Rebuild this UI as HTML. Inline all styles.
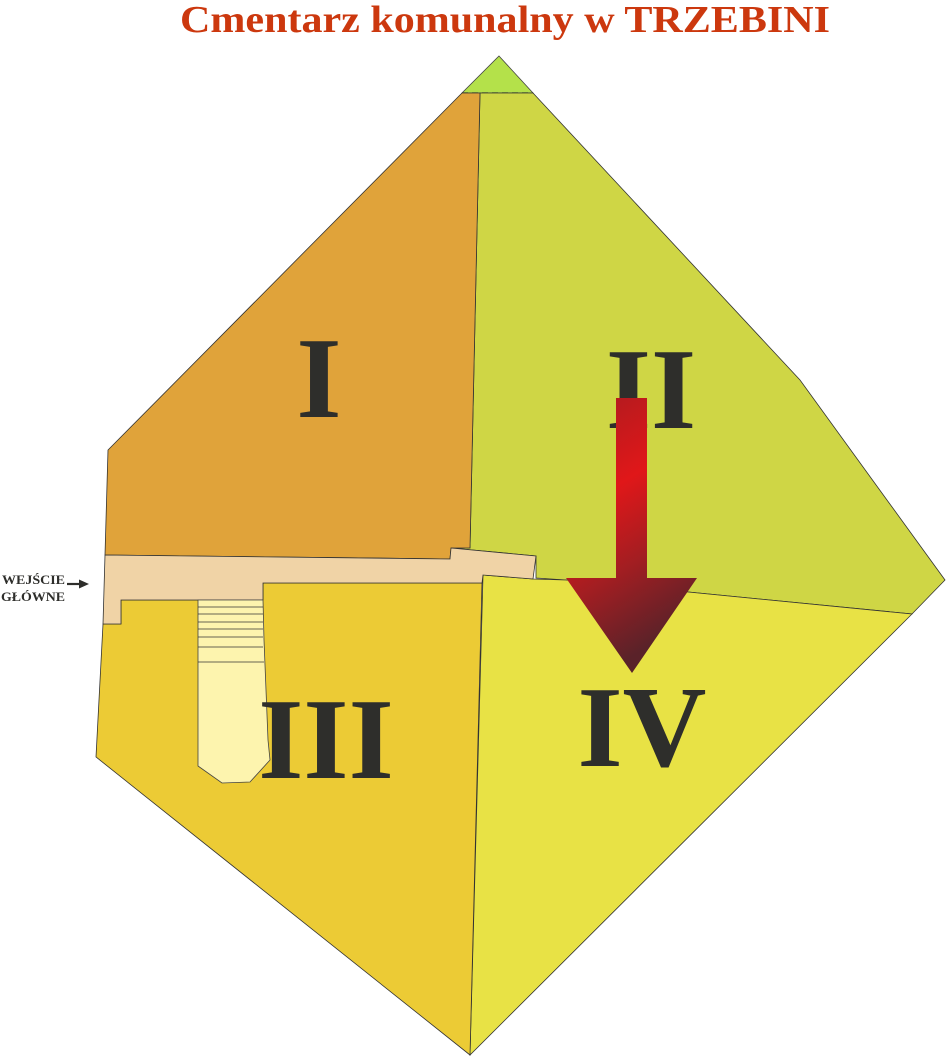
<!DOCTYPE html>
<html><head><meta charset="utf-8"><style>html,body{margin:0;padding:0;background:#fff;}svg{display:block;}</style></head>
<body>
<svg width="947" height="1057" viewBox="0 0 947 1057" xmlns="http://www.w3.org/2000/svg">
<defs>
<linearGradient id="ag" x1="0" y1="0" x2="0.3" y2="1">
<stop offset="0" stop-color="#a81c20"/>
<stop offset="0.4" stop-color="#e01719"/>
<stop offset="0.7" stop-color="#a01e22"/>
<stop offset="1" stop-color="#5a2229"/>
</linearGradient>
</defs>
<text x="505" y="32" font-family="Liberation Serif, serif" font-weight="bold" font-size="38" fill="#cc380e" text-anchor="middle" textLength="650" lengthAdjust="spacingAndGlyphs">Cmentarz komunalny w TRZEBINI</text>
<polygon points="499,56 533,93 462,93" fill="#b4e14a" stroke="#444" stroke-width="0.8"/>
<line x1="462" y1="93" x2="533" y2="93" stroke="#333" stroke-width="1.2" stroke-dasharray="6,4"/>
<polygon points="480,93 533,93 800,380 945,580 912,614 566,580 536,578 536,556 451,548 470,548" fill="#cfd645" stroke="#333" stroke-width="0.8"/>
<polygon points="462,93 480,93 470,548 451,548 450,559 105,555 108,450" fill="#e0a33a" stroke="#333" stroke-width="0.8"/>
<polygon points="483,575 533,579 566,580 912,614 470,1055" fill="#e8e245" stroke="#333" stroke-width="0.8"/>
<polygon points="121,600 263,600 263,583 482,583 470,1055 96,757 103,624 121,624" fill="#eccb35" stroke="#333" stroke-width="0.8"/>
<polygon points="105,555 450,559 451,548 536,556 533,579 483,575 482,583 263,583 263,600 121,600 121,624 103,624" fill="#f0d3a6" stroke="#333" stroke-width="0.8"/>
<polygon points="198,600 263,600 264,640 268,740 270,760 250,782 222,783 198,766" fill="#fdf4ae" stroke="#444" stroke-width="0.8"/>
<g stroke="#333" stroke-width="0.8">
<line x1="198" y1="607" x2="263" y2="607"/>
<line x1="198" y1="614" x2="263" y2="614"/>
<line x1="198" y1="622" x2="263" y2="622"/>
<line x1="198" y1="629" x2="263" y2="629"/>
<line x1="198" y1="637" x2="263" y2="637"/>
<line x1="198" y1="647" x2="263" y2="647"/>
<line x1="198" y1="662" x2="264" y2="662"/>
</g>
<g font-family="Liberation Serif, serif" font-weight="bold" font-size="116" fill="#2e2e2b" text-anchor="middle">
<text x="319" y="417">I</text>
<text x="651" y="428">II</text>
<text x="326" y="778">III</text>
<text x="642" y="766">IV</text>
</g>
<polygon points="616,398 647,398 647,578 697,578 632,673 566,578 616,578" fill="url(#ag)"/>
<text x="2" y="584" font-family="Liberation Serif, serif" font-weight="bold" font-size="13" fill="#2e2e2b" textLength="63" lengthAdjust="spacingAndGlyphs">WEJŚCIE</text>
<text x="1" y="601" font-family="Liberation Serif, serif" font-weight="bold" font-size="13" fill="#2e2e2b" textLength="64" lengthAdjust="spacingAndGlyphs">GŁÓWNE</text>
<line x1="67" y1="584" x2="82" y2="584" stroke="#2e2e2b" stroke-width="2.2"/>
<polygon points="89,584 79,579.5 79,588.5" fill="#2e2e2b"/>
</svg>
</body></html>
